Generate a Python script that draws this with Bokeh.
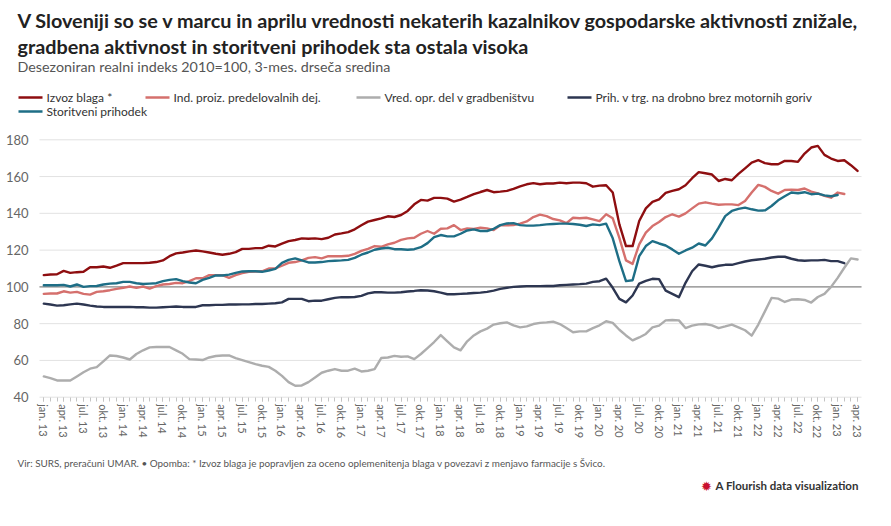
from bokeh.plotting import figure
from bokeh.models import Range1d, FixedTicker, Label, BoxAnnotation
from bokeh.embed import file_html
from bokeh.resources import INLINE

# ---------------- data (monthly, jan. 2013 = index 0) ----------------
izvoz_blaga = [
    106.4, 106.7, 106.9, 108.7, 107.6, 108.0, 108.2, 110.7, 110.7, 111.1, 110.4, 111.6,
    112.9, 112.9, 112.9, 112.9, 113.1, 113.5, 114.4, 116.7, 118.2, 118.7, 119.3, 119.8,
    119.3, 118.7, 118.0, 117.5, 118.0, 118.9, 120.7, 120.7, 121.1, 121.1, 122.4, 122.0,
    123.5, 124.9, 125.5, 126.4, 126.2, 126.4, 126.0, 126.7, 128.5, 129.1, 129.8, 131.3,
    133.5, 135.5, 136.4, 137.3, 138.4, 138.0, 139.1, 141.3, 144.9, 147.3, 146.9, 148.4,
    148.4, 148.0, 146.4, 147.5, 148.9, 150.4, 151.6, 152.7, 151.5, 151.8, 152.2, 153.3,
    154.7, 155.8, 156.4, 155.8, 156.2, 156.2, 156.7, 156.4, 156.7, 156.7, 156.4, 154.5,
    155.1, 155.3, 151.3, 134.0, 122.2, 122.2, 135.8, 142.7, 146.2, 147.6, 151.1, 152.2,
    153.1, 155.3, 159.1, 162.4, 161.8, 161.1, 157.6, 158.7, 158.0, 161.5, 164.5, 167.6,
    168.9, 167.3, 166.7, 166.7, 168.5, 168.5, 168.0, 172.5, 175.8, 176.7, 171.8, 169.8,
    168.5, 168.9, 166.2, 163.1,
]
ind_proiz = [
    96.2, 96.4, 96.4, 97.6, 96.9, 97.3, 96.2, 95.8, 97.3, 97.6, 98.2, 98.9,
    99.5, 100.2, 99.5, 100.2, 99.1, 100.4, 101.3, 101.6, 102.2, 102.0, 103.1, 104.7,
    104.7, 106.4, 106.4, 106.4, 104.9, 106.4, 107.5, 108.2, 108.4, 108.5, 110.0, 110.0,
    111.5, 113.1, 113.5, 114.4, 115.8, 116.2, 115.5, 116.7, 116.7, 116.7, 116.9, 118.0,
    119.6, 120.7, 122.2, 121.8, 123.1, 124.0, 125.6, 126.4, 126.7, 128.9, 130.4, 128.9,
    131.6, 131.8, 133.6, 130.9, 131.8, 131.5, 132.2, 131.8, 130.9, 133.5, 133.5, 133.6,
    134.4, 135.6, 138.0, 139.3, 138.5, 136.9, 136.2, 134.7, 137.6, 137.3, 137.6, 136.7,
    135.8, 139.5, 137.3, 126.7, 114.4, 112.5, 123.1, 129.5, 133.1, 135.3, 138.0, 139.5,
    138.2, 140.0, 142.7, 145.3, 146.0, 145.3, 144.7, 144.9, 144.9, 144.5, 146.7, 151.3,
    155.5, 154.4, 152.2, 150.7, 152.7, 152.9, 152.7, 153.5, 151.8, 150.9, 149.5, 148.5,
    151.3, 150.5,
]
gradbenistvo = [
    51.3, 50.4, 49.1, 49.1, 49.1, 51.3, 53.6, 55.5, 56.4, 59.5, 62.7, 62.4,
    61.6, 60.5, 63.5, 65.5, 67.1, 67.3, 67.3, 67.3, 65.5, 63.6, 60.7, 60.5,
    60.2, 61.6, 62.4, 62.7, 62.7, 61.3, 60.2, 59.1, 58.0, 57.1, 56.5, 54.4,
    51.6, 48.2, 46.2, 46.4, 48.2, 50.7, 53.3, 54.4, 55.3, 54.4, 54.4, 55.5,
    54.0, 54.4, 55.3, 61.3, 61.6, 62.5, 62.0, 62.2, 60.7, 63.5, 66.7, 70.0,
    73.8, 70.4, 67.1, 65.5, 70.4, 73.6, 75.8, 77.3, 79.5, 80.2, 80.7, 79.1,
    78.0, 78.5, 79.8, 80.4, 80.7, 81.1, 79.8, 77.6, 75.3, 75.8, 75.8, 77.6,
    79.1, 81.3, 80.4, 76.7, 73.6, 70.9, 72.5, 74.4, 78.0, 78.9, 81.8, 82.0,
    81.8, 77.6, 78.9, 79.6, 79.8, 79.1, 77.6, 78.5, 79.5, 78.0, 76.4, 73.5,
    79.5, 86.7, 94.0, 93.6, 91.8, 93.1, 93.3, 92.9, 91.5, 94.5, 96.2, 100.0,
    104.9, 110.4, 115.5, 114.9,
]
trgovina = [
    90.9, 90.4, 89.8, 90.0, 90.5, 90.9, 90.4, 89.8, 89.3, 89.1, 89.1, 89.1,
    89.1, 89.1, 88.9, 88.9, 88.7, 88.7, 88.9, 89.1, 89.3, 89.1, 89.1, 89.1,
    90.0, 90.0, 90.2, 90.2, 90.4, 90.4, 90.5, 90.5, 90.7, 90.7, 90.9, 91.1,
    91.6, 93.5, 93.5, 93.5, 92.2, 92.5, 92.5, 93.3, 94.0, 94.4, 94.4, 94.5,
    95.1, 96.5, 97.1, 97.1, 96.9, 96.9, 97.1, 97.5, 97.8, 98.2, 98.0, 97.6,
    96.9, 96.0, 96.0, 96.2, 96.4, 96.7, 96.9, 97.3, 98.0, 98.9, 99.5, 100.0,
    100.2, 100.4, 100.4, 100.4, 100.5, 100.5, 100.9, 101.1, 101.3, 101.5, 101.8, 102.7,
    103.1, 104.5, 99.5, 93.5, 91.6, 95.3, 101.8, 103.3, 104.4, 104.2, 98.0, 96.2,
    94.4, 102.2, 108.5, 112.2, 111.5, 110.7, 111.5, 112.0, 112.0, 112.9, 113.8, 114.5,
    114.9, 115.3, 116.0, 116.4, 116.4, 115.3, 114.5, 114.2, 114.4, 114.4, 114.7, 114.0,
    114.0, 112.9,
]
storitve = [
    100.9, 100.9, 100.9, 101.1, 100.2, 101.3, 100.0, 100.4, 100.5, 101.3, 101.8, 102.0,
    102.7, 102.7, 102.0, 101.6, 101.8, 102.0, 103.1, 103.8, 104.2, 103.1, 102.4, 102.0,
    103.8, 104.9, 106.2, 106.2, 106.7, 107.6, 108.4, 108.5, 108.5, 108.2, 108.9, 109.8,
    113.1, 114.7, 115.5, 114.4, 113.3, 113.3, 113.5, 114.0, 114.2, 114.4, 114.7, 115.8,
    117.5, 118.7, 120.2, 120.9, 121.3, 120.5, 120.5, 120.2, 120.5, 121.6, 123.8, 127.1,
    128.2, 127.5, 127.5, 128.9, 130.7, 131.3, 130.4, 130.4, 131.6, 133.6, 134.5, 134.7,
    133.6, 133.3, 133.3, 133.6, 134.0, 134.2, 134.4, 134.4, 134.2, 133.8, 133.1, 134.0,
    133.6, 134.4, 126.4, 114.0, 103.1, 103.6, 116.7, 122.2, 124.9, 123.6, 122.5, 120.4,
    118.0, 119.8, 121.3, 123.6, 122.5, 126.4, 132.2, 138.5, 141.3, 142.4, 143.1, 142.2,
    141.5, 141.6, 144.0, 147.1, 149.3, 151.3, 150.9, 151.5, 150.4, 150.7, 149.8, 149.3,
    150.0,
]

series_names = [
    "Izvoz blaga *",
    "Ind. proiz. predelovalnih dej.",
    "Vred. opr. del v gradbeništvu",
    "Prih. v trg. na drobno brez motornih goriv",
    "Storitveni prihodek",
]
series_values = [izvoz_blaga, ind_proiz, gradbenistvo, trgovina, storitve]
series_colors = ["#8e0e10", "#d5706d", "#adadad", "#2d3651", "#1e6e86"]

quarter_labels = [
    "jan. 13", "apr. 13", "jul. 13", "okt. 13", "jan. 14", "apr. 14", "jul. 14", "okt. 14",
    "jan. 15", "apr. 15", "jul. 15", "okt. 15", "jan. 16", "apr. 16", "jul. 16", "okt. 16",
    "jan. 17", "apr. 17", "jul. 17", "okt. 17", "jan. 18", "apr. 18", "jul. 18", "okt. 18",
    "jan. 19", "apr. 19", "jul. 19", "okt. 19", "jan. 20", "apr. 20", "jul. 20", "okt. 20",
    "jan. 21", "apr. 21", "jul. 21", "okt. 21", "jan. 22", "apr. 22", "jul. 22", "okt. 22",
    "jan. 23", "apr. 23",
]
n_months = 124
y_ticks = [40, 60, 80, 100, 120, 140, 160, 180]

title_lines = [
    "V Sloveniji so se v marcu in aprilu vrednosti nekaterih kazalnikov gospodarske aktivnosti znižale,",
    "gradbena aktivnost in storitveni prihodek sta ostala visoka",
]
subtitle = "Desezoniran realni indeks 2010=100, 3-mes. drseča sredina"
footer = ("Vir: SURS, preračuni UMAR. \u2022 Opomba: * Izvoz blaga je popravljen za oceno "
          "oplemenitenja blaga v povezavi z menjavo farmacije s Švico.")
credit = "A Flourish data visualization"

FONT = "Lato"

# ---------------- geometry (page pixels; canvas sits at page 0,0) ----------------
W, H = 891, 526
PLOT_L, PLOT_R = 39.0, 861.0    # page x of the chart area edges
Y180, Y40 = 139.3, 396.7        # page y of the 180 and 40 grid lines
X_LO, X_HI = -0.65, 123.6       # month-index range of the chart area

xpp = (X_HI - X_LO) / (PLOT_R - PLOT_L)     # data units per pixel (x)
ypp = (180 - 40) / (Y40 - Y180)             # data units per pixel (y)
x_start = X_LO - PLOT_L * xpp
x_end = X_HI + (W - PLOT_R) * xpp
y_end = 180 + Y180 * ypp
y_start = 40 - (H - Y40) * ypp

p = figure(width=W, height=H, output_backend="svg", toolbar_location=None,
           x_range=Range1d(x_start, x_end), y_range=Range1d(y_start, y_end),
           min_border=0)
p.outline_line_color = None
p.background_fill_color = "white"
p.border_fill_color = "white"

# axes drawn at fixed positions inside the canvas
quarter_ticks = list(range(0, n_months, 3))
xa = p.xaxis[0]
xa.fixed_location = 40
xa.ticker = FixedTicker(ticks=quarter_ticks, minor_ticks=list(range(n_months)))
xa.major_label_overrides = {t: lab for t, lab in zip(quarter_ticks, quarter_labels)}
xa.major_label_orientation = "vertical"
xa.axis_line_color = None
xa.major_tick_in = 0
xa.major_tick_out = 4
xa.minor_tick_in = 0
xa.minor_tick_out = 4
xa.major_tick_line_color = "#c4c4c4"
xa.minor_tick_line_color = "#c4c4c4"
xa.major_label_standoff = 3
xa.major_label_text_font = FONT
xa.major_label_text_font_size = "11px"
xa.major_label_text_color = "#666666"

ya = p.yaxis[0]
ya.fixed_location = X_LO
ya.ticker = FixedTicker(ticks=y_ticks)
ya.axis_line_color = None
ya.major_tick_line_color = None
ya.minor_tick_line_color = None
ya.major_label_standoff = 5
ya.major_label_text_font = FONT
ya.major_label_text_font_size = "13px"
ya.major_label_text_color = "#666666"

p.xgrid.grid_line_color = None
p.ygrid.grid_line_color = None

# horizontal grid lines limited to the chart area
p.segment(x0=[X_LO] * len(y_ticks), x1=[X_HI] * len(y_ticks), y0=y_ticks, y1=y_ticks,
          line_color="#e2e2e2", line_width=1)
p.segment(x0=[X_LO], x1=[X_HI], y0=[100], y1=[100], line_color="#8a8a8a", line_width=1.3)

for name, vals, col in zip(series_names, series_values, series_colors):
    p.line(list(range(len(vals))), vals, line_color=col, line_width=2.4,
           line_join="round", line_cap="round")


# ---------------- texts (page coords -> screen units, canvas == frame) ----------------
def sx(ix):
    return ix


def sy(iy):
    return H - iy


def label(text, ix, iy, size, color, style="normal", align="left"):
    p.add_layout(Label(x=sx(ix), y=sy(iy), x_units="screen", y_units="screen",
                       text=text, text_font=FONT, text_font_size=f"{size}px",
                       text_color=color, text_font_style=style, text_align=align,
                       text_baseline="middle"))


label(title_lines[0], 17, 19, 19.8, "#222222", "bold")
label(title_lines[1], 17, 45, 19.8, "#222222", "bold")
label(subtitle, 17, 66, 14.3, "#555555")

legend_pos = [(18, 97), (145, 97), (356, 97), (567, 97), (18, 111)]
for (lx, ly), name, col in zip(legend_pos, series_names, series_colors):
    p.add_layout(BoxAnnotation(left=sx(lx), right=sx(lx + 24), top=sy(ly - 1.2),
                               bottom=sy(ly + 1.2), left_units="screen",
                               right_units="screen", top_units="screen",
                               bottom_units="screen", fill_color=col, fill_alpha=1,
                               line_color=None))
    label(name, lx + 28, ly, 12, "#333333")

label(footer, 17, 462, 9.9, "#555555")
label("\u2739", 706, 485, 13, "#c8102e", align="center")
label(credit, 715, 485, 11.5, "#333333", "bold")

open("out.html", "w").write(file_html(p, INLINE))
